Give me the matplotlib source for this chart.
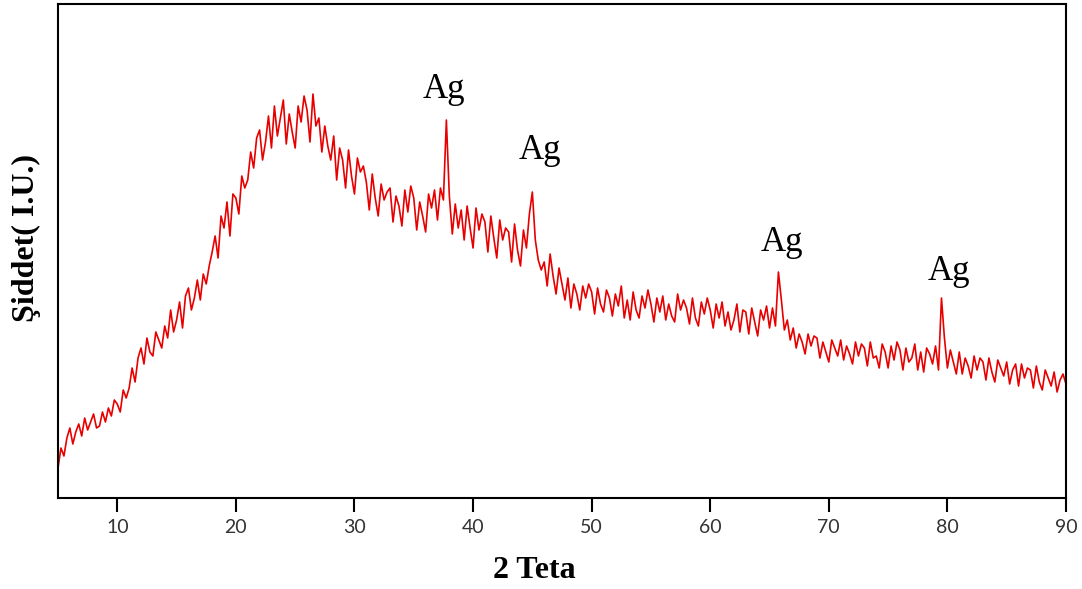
import numpy as np
import matplotlib.pyplot as plt

# XRD intensity, one value every 0.25 degree from 5 to 90
intensity = [
    30, 50, 42, 60,  70, 54, 66, 74,  62, 80, 68, 76,  84, 70, 72, 86,  76, 90, 82, 98,
    94, 86, 108, 100,  110, 130, 116, 140,  150, 134, 160, 146,  142, 166, 158, 150,  172, 160, 188, 166,
    178, 196, 170, 202,  210, 188, 200, 218,  198, 224, 214, 232,  246, 262, 240, 282,  270, 296, 262, 304,
    300, 284, 322, 310,  318, 346, 330, 360,  368, 338, 356, 382,  350, 392, 362, 380,  398, 354, 384, 366,
    350, 392, 376, 402,  388, 356, 404, 372,  380, 346, 372, 352,  338, 362, 318, 350,  338, 310, 348, 322,
    304, 340, 326, 332,  316, 288, 324, 300,  282, 314, 298, 306,  310, 276, 302, 292,  272, 308, 286, 312,
    300, 268, 296, 282,  266, 304, 290, 308,  278, 310, 298, 378,  302, 264, 294, 270,  288, 258, 292, 270,
    250, 290, 268, 284,  276, 246, 282, 260,  240, 278, 258, 270,  266, 236, 274, 248,  232, 268, 250, 284,
    306, 258, 238, 228,  236, 212, 244, 222,  204, 230, 214, 198,  220, 190, 214, 204,  188, 212, 200, 214,
    206, 184, 210, 194,  186, 208, 200, 182,  204, 192, 212, 180,  198, 178, 206, 188,  180, 202, 190, 208,
    194, 176, 200, 186,  202, 178, 194, 182,  176, 204, 188, 198,  190, 174, 200, 180,  172, 196, 184, 200,
    188, 170, 194, 180,  196, 172, 186, 168,  178, 194, 166, 188,  186, 164, 190, 176,  162, 188, 178, 192,
    170, 190, 172, 226,  198, 168, 178, 158,  170, 150, 164, 156,  144, 164, 152, 162,  160, 140, 156, 146,
    136, 158, 150, 142,  158, 138, 152, 144,  134, 156, 142, 154,  150, 132, 156, 140,  142, 130, 154, 146,
    130, 152, 138, 156,  148, 128, 150, 136,  140, 154, 128, 146,  126, 150, 144, 134,  152, 128, 200, 160,
    130, 148, 136, 124,  146, 124, 140, 132,  120, 142, 128, 140,  136, 118, 140, 126,  116, 138, 130, 122,
    136, 114, 128, 134,  112, 134, 120, 130,  128, 110, 132, 116,  108, 128, 120, 112,  126, 106, 118, 124,
    114,
]
two_theta = np.linspace(5, 90, len(intensity))

peak_x = [37.55, 45.6, 66.05, 80.1]
peak_y = [409, 348, 256, 227]
peak_labels = ['Ag', 'Ag', 'Ag', 'Ag']
xticks = [10, 20, 30, 40, 50, 60, 70, 80, 90]

fig = plt.figure(figsize=(10.82, 5.89), dpi=100)
ax = fig.add_axes([0.0536, 0.1545, 0.9316, 0.8387])

ax.plot(two_theta, intensity, color='#e80000', lw=1.2)

for x, y, t in zip(peak_x, peak_y, peak_labels):
    ax.text(x, y, t, ha='center', va='center', fontsize=25, family='Liberation Serif')

ax.set_xlim(5, 90)
ax.set_ylim(0, 494)
ax.set_yticks([])
ax.set_xticks(xticks)
ax.tick_params(axis='x', direction='out', length=10, width=1.5, pad=5,
               labelsize=14, labelcolor='#333333')
for lbl in ax.get_xticklabels():
    lbl.set_family('Lato')
for s in ax.spines.values():
    s.set_linewidth(1.5)

# axis titles placed where they sit in the original
fig.text(534 / 1082, 1 - 570 / 589, '2 Teta', ha='center', va='center',
         fontsize=23, fontweight='bold', family='Liberation Serif')
fig.text(26 / 1082, 1 - 238 / 589, 'Şiddet( I.U.)', ha='center', va='center', rotation=90,
         fontsize=23, fontweight='bold', family='Liberation Serif')

plt.savefig('out.png', dpi=100)
